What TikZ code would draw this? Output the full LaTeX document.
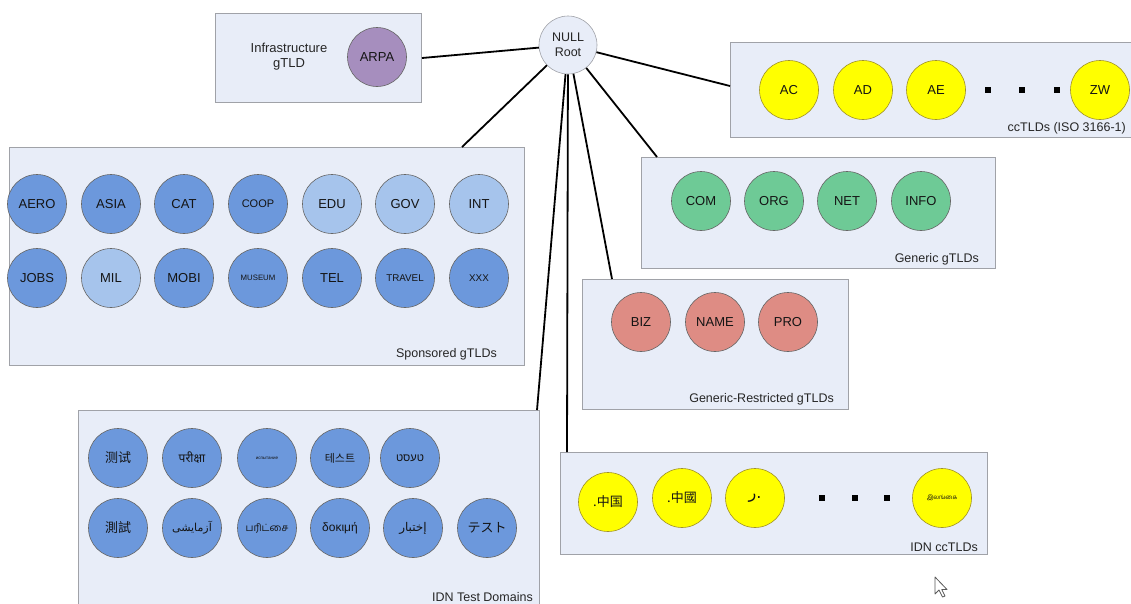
\documentclass[tikz,border=0pt]{standalone}
\usepackage{fontspec}
\setmainfont{Liberation Sans}
\newfontfamily\cjksc{Noto Sans CJK SC}
\newfontfamily\cjktc{Noto Sans CJK TC}
\newfontfamily\cjkjp{Noto Sans CJK JP}
\newfontfamily\cjkkr{Noto Sans CJK KR}
\newfontfamily\devafont[Script=Devanagari]{Noto Sans}
\newfontfamily\tamilfont[Script=Tamil]{Hind Madurai}
\newfontfamily\arabicfont[Script=Arabic]{DejaVu Sans}
\newfontfamily\hebrewfont[Script=Hebrew]{Liberation Sans}
\TeXXeTstate=1

\definecolor{boxfill}{RGB}{232,237,248}
\definecolor{boxline}{RGB}{160,162,168}
\definecolor{dblue}{RGB}{108,152,220}
\definecolor{lblue}{RGB}{166,196,236}
\definecolor{ylw}{RGB}{255,255,0}
\definecolor{ylwline}{RGB}{160,145,40}
\definecolor{grn}{RGB}{110,202,150}
\definecolor{rose}{RGB}{222,140,132}
\definecolor{purp}{RGB}{166,142,190}

\newcommand{\fs}[1]{\fontsize{#1}{#1}\selectfont}

\tikzset{
  grp/.style={draw=boxline, fill=boxfill, line width=1pt, rectangle,
              anchor=north west, inner sep=0pt},
  dom/.style={circle, draw=black!60, line width=0.6pt, minimum size=59pt,
              inner sep=0pt, text=black!92, font=\fs{13}},
  ccdom/.style={dom, fill=ylw, draw=ylwline},
  caption/.style={anchor=base east, inner sep=0pt, text=black!85, font=\fs{12.5}},
  link/.style={line width=1.8pt},
  dotmark/.style={rectangle, fill=black, minimum size=6pt, inner sep=0pt}
}

\begin{document}
\begin{tikzpicture}[x=1pt, y=-1pt]
\clip (0,0) rectangle (1131,603);

% group boxes
\node[grp, minimum width=206pt, minimum height=89pt]  (infra) at (215,13)  {};
\node[grp, minimum width=401pt, minimum height=95pt]  (cc)    at (730,42)  {};
\node[grp, minimum width=515pt, minimum height=218pt] (spons) at (9,147)   {};
\node[grp, minimum width=354pt, minimum height=111pt] (gen)   at (641,157) {};
\node[grp, minimum width=266pt, minimum height=130pt] (restr) at (582,279) {};
\node[grp, minimum width=461pt, minimum height=210pt] (idnt)  at (78,410)  {};
\node[grp, minimum width=427pt, minimum height=102pt] (idncc) at (560,452) {};

% root
\node[dom, fill=boxfill, draw=boxline, minimum size=58pt, align=center,
      font=\fs{12.5}, text=black!85] (root) at (568,45) {NULL\\[3pt]Root};

% attachment points on the boxes
\coordinate (ccin)    at (730,86);
\coordinate (sponsin) at (462,147);
\coordinate (genin)   at (657,157);
\coordinate (restrin) at (612,279);
\coordinate (idntin)  at (537,410);
\coordinate (idnccin) at (567,452);

% connectors
\draw[link] (root) -- (infra.east);
\draw[link] (root) -- (ccin);
\draw[link] (root) -- (sponsin);
\draw[link] (root) -- (genin);
\draw[link] (root) -- (restrin);
\draw[link] (root) -- (idntin);
\draw[link] (root) -- (idnccin);

% infrastructure
\node[align=center, text=black!85, font=\fs{13}, inner sep=0pt] (infralbl) at (289,57)
  {Infrastructure\\[2pt]gTLD};
\node[dom, fill=purp] (arpa) at (377,57) {ARPA};

% country codes
\node[ccdom] (ac) at (789,90)  {AC};
\node[ccdom] (ad) at (863,90)  {AD};
\node[ccdom] (ae) at (936,90)  {AE};
\node[dotmark] (ccd1) at (988,90)  {};
\node[dotmark] (ccd2) at (1022,90) {};
\node[dotmark] (ccd3) at (1057,90) {};
\node[ccdom] (zw) at (1100,90) {ZW};
\node[caption] (cclbl) at (1126,131) {ccTLDs (ISO 3166-1)};

% sponsored
\node[dom, fill=dblue] (aero) at (37,204)  {AERO};
\node[dom, fill=dblue] (asia) at (111,204) {ASIA};
\node[dom, fill=dblue] (cat)  at (184,204) {CAT};
\node[dom, fill=dblue, font=\fs{11}] (coop) at (258,204) {COOP};
\node[dom, fill=lblue] (edu)  at (332,204) {EDU};
\node[dom, fill=lblue] (gov)  at (405,204) {GOV};
\node[dom, fill=lblue] (int)  at (479,204) {INT};
\node[dom, fill=dblue] (jobs) at (37,278)  {JOBS};
\node[dom, fill=lblue] (mil)  at (111,278) {MIL};
\node[dom, fill=dblue] (mobi) at (184,278) {MOBI};
\node[dom, fill=dblue, font=\fs{7.8}] (museum) at (258,278) {MUSEUM};
\node[dom, fill=dblue] (tel)  at (332,278) {TEL};
\node[dom, fill=dblue, font=\fs{9.8}] (travel) at (405,278) {TRAVEL};
\node[dom, fill=dblue, font=\fs{9.8}] (xxx)  at (479,278) {XXX};
\node[caption] (sponslbl) at (497,357) {Sponsored gTLDs};

% generic
\node[dom, fill=grn] (com)  at (701,201) {COM};
\node[dom, fill=grn] (org)  at (774,201) {ORG};
\node[dom, fill=grn] (net)  at (847,201) {NET};
\node[dom, fill=grn] (info) at (921,201) {INFO};
\node[caption] (genlbl) at (979,262) {Generic gTLDs};

% generic restricted
\node[dom, fill=rose] (biz)  at (641,322) {BIZ};
\node[dom, fill=rose] (name) at (715,322) {NAME};
\node[dom, fill=rose] (pro)  at (788,322) {PRO};
\node[caption] (restrlbl) at (834,402) {Generic-Restricted gTLDs};

% IDN test domains
\node[dom, fill=dblue] (t1)  at (118,458) {\cjksc\fs{13}测试};
\node[dom, fill=dblue] (t2)  at (192,458) {\devafont\fs{12}परीक्षा};
\node[dom, fill=dblue] (t3)  at (267,458) {\fs{4.5}испытание};
\node[dom, fill=dblue] (t4)  at (340,458) {\cjkkr\fs{11}테스트};
\node[dom, fill=dblue] (t5)  at (410,458) {\hebrewfont\fs{11}\beginR טעסט\endR};
\node[dom, fill=dblue] (t6)  at (118,528) {\cjktc\fs{13}測試};
\node[dom, fill=dblue] (t7)  at (192,528) {\arabicfont\fs{11}\beginR آزمایشی\endR};
\node[dom, fill=dblue] (t8)  at (267,528) {\tamilfont\fs{10}பரிட்சை};
\node[dom, fill=dblue] (t9)  at (340,528) {\fs{12}δοκιμή};
\node[dom, fill=dblue] (t10) at (413,528) {\arabicfont\fs{12}\beginR إختبار\endR};
\node[dom, fill=dblue] (t11) at (487,528) {\cjkjp\fs{13}テスト};
\node[caption] (idntlbl) at (533,601) {IDN Test Domains};

% IDN country codes
\node[ccdom] (cn1) at (608,502) {\cjksc\fs{13}.中国};
\node[ccdom] (cn2) at (682,498) {\cjktc\fs{13}.中國};
\node[ccdom] (ar1) at (755,498) {\arabicfont\fs{16}\beginR .ر\endR};
\node[dotmark] (idnd1) at (822,498) {};
\node[dotmark] (idnd2) at (855,498) {};
\node[dotmark] (idnd3) at (887,498) {};
\node[ccdom] (lk) at (942,498) {\tamilfont\fs{6}இலங்கை};
\node[caption] (idncclbl) at (978,551) {IDN ccTLDs};

% mouse pointer
\draw[fill=white, draw=black!65, line width=0.8pt, line join=round]
  (935,577) -- (935,594) -- (939,590) -- (942.5,597) -- (945,596)
  -- (941.8,589.5) -- (947,589.5) -- cycle;
\end{tikzpicture}
\end{document}
